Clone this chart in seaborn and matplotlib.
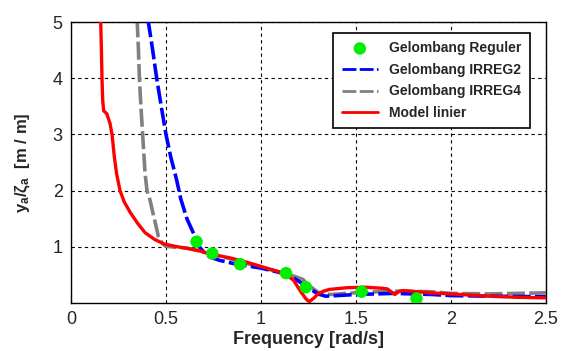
import numpy as np
import pandas as pd
import matplotlib
matplotlib.use("Agg")
import matplotlib.pyplot as plt
import seaborn as sns

# Données (frequence en rad/s, RAO y_a/zeta_a)
freq_reg = [0.661, 0.744, 0.89, 1.132, 1.236, 1.53, 1.819]
rao_reg = [1.09, 0.88, 0.69, 0.53, 0.28, 0.20, 0.08]

freq_irr2 = [0.405, 0.43, 0.451, 0.475, 0.50, 0.525, 0.556, 0.578, 0.61, 0.653, 0.675,
             0.70, 0.73, 0.78, 0.87, 1.0, 1.1, 1.17, 1.25, 1.30, 1.34, 1.40, 1.5, 1.7,
             1.9, 2.0, 2.2, 2.5]
rao_irr2 = [5.05, 4.5, 4.0, 3.5, 3.0, 2.6, 2.19, 1.85, 1.5, 1.18, 1.0,
            0.9, 0.82, 0.76, 0.69, 0.62, 0.54, 0.45, 0.27, 0.16, 0.12, 0.13, 0.15, 0.17,
            0.15, 0.13, 0.12, 0.11]

freq_irr4 = [0.348, 0.355, 0.36, 0.368, 0.377, 0.39, 0.40, 0.416, 0.43, 0.44, 0.46,
             0.48, 0.50, 0.55, 0.61, 0.70, 0.80, 0.90, 1.0, 1.1, 1.17, 1.22, 1.25,
             1.28, 1.31, 1.37, 1.49, 1.7, 1.89, 2.0, 2.2, 2.5]
rao_irr4 = [5.05, 4.5, 4.0, 3.5, 3.0, 2.3, 2.0, 1.83, 1.62, 1.48, 1.18,
            1.06, 1.01, 0.99, 0.98, 0.90, 0.82, 0.73, 0.63, 0.55, 0.48, 0.42, 0.32,
            0.24, 0.17, 0.15, 0.18, 0.21, 0.20, 0.17, 0.16, 0.18]

freq_lin = [0.156, 0.160, 0.163, 0.167, 0.172, 0.188, 0.205, 0.216, 0.228, 0.24, 0.258,
            0.28, 0.31, 0.35, 0.39, 0.44, 0.49, 0.56, 0.66, 0.75, 0.84, 0.92, 1.0,
            1.08, 1.13, 1.17, 1.21, 1.235, 1.254, 1.28, 1.30, 1.33, 1.36, 1.45, 1.55,
            1.64, 1.665, 1.705, 1.73, 1.75, 1.89, 2.0, 2.2, 2.35, 2.5]
rao_lin = [5.05, 4.5, 4.0, 3.6, 3.42, 3.37, 3.2, 3.0, 2.6, 2.3, 2.0,
           1.8, 1.62, 1.42, 1.25, 1.13, 1.05, 1.0, 0.94, 0.86, 0.80, 0.73, 0.65,
           0.57, 0.50, 0.41, 0.20, 0.08, 0.02, 0.09, 0.16, 0.21, 0.24, 0.27, 0.28,
           0.26, 0.25, 0.15, 0.21, 0.22, 0.18, 0.16, 0.12, 0.10, 0.09]

sns.set_style("white")
plt.rcParams['font.family'] = ['Liberation Sans', 'DejaVu Sans']
plt.rcParams['mathtext.fontset'] = 'custom'
plt.rcParams['mathtext.rm'] = 'Liberation Sans'
plt.rcParams['mathtext.it'] = 'Liberation Sans:italic'
plt.rcParams['mathtext.bf'] = 'Liberation Sans:bold'

fig = plt.figure(figsize=(5.61, 3.51), dpi=100)
ax = fig.add_axes([0.1266, 0.137, 0.8464, 0.8])

dash = (0, (5, 1.2))
sns.scatterplot(x=freq_reg, y=rao_reg, ax=ax, color='#00ee00', s=80,
                edgecolor='none', label='Gelombang Reguler', zorder=5)
sns.lineplot(x=freq_irr2, y=rao_irr2, ax=ax, color='#0000ff', lw=2.6,
             linestyle=dash, estimator=None, sort=False,
             label='Gelombang IRREG2', zorder=3)
sns.lineplot(x=freq_irr4, y=rao_irr4, ax=ax, color='#808080', lw=2.6,
             linestyle=dash, estimator=None, sort=False,
             label='Gelombang IRREG4', zorder=2)
sns.lineplot(x=freq_lin, y=rao_lin, ax=ax, color='#ff0000', lw=2.4,
             estimator=None, sort=False, label='Model linier', zorder=4)

ax.set_xlim(0, 2.5)
ax.set_ylim(0, 5)
ax.set_xticks([0, 0.5, 1, 1.5, 2, 2.5])
ax.set_xticklabels(['0', '0.5', '1', '1.5', '2', '2.5'])
ax.set_yticks([1, 2, 3, 4, 5])
ax.tick_params(labelsize=13, direction='in', length=3, color='black', pad=6)
ax.grid(True, color='black', linestyle=(0, (3, 3)), linewidth=0.8)
for sp in ax.spines.values():
    sp.set_color('black')
    sp.set_linewidth(1.0)

ax.set_xlabel('Frequency [rad/s]', fontsize=13, fontweight='bold', labelpad=2)
ax.set_ylabel(r'$\mathbf{y_a/\zeta_a}$  [m / m]', fontsize=12, fontweight='bold', labelpad=15)

leg = ax.legend(loc='upper right', bbox_to_anchor=(0.966, 0.962), borderaxespad=0,
                prop={'weight': 'bold', 'size': 10}, frameon=True, fancybox=False,
                handlelength=2.6, labelspacing=0.55, borderpad=0.6)
leg.get_frame().set_edgecolor('black')
leg.get_frame().set_linewidth(1.2)
leg.get_frame().set_alpha(1)
for h in leg.get_lines():
    h.set_linewidth(2.0)

fig.savefig('out.png', dpi=100)
